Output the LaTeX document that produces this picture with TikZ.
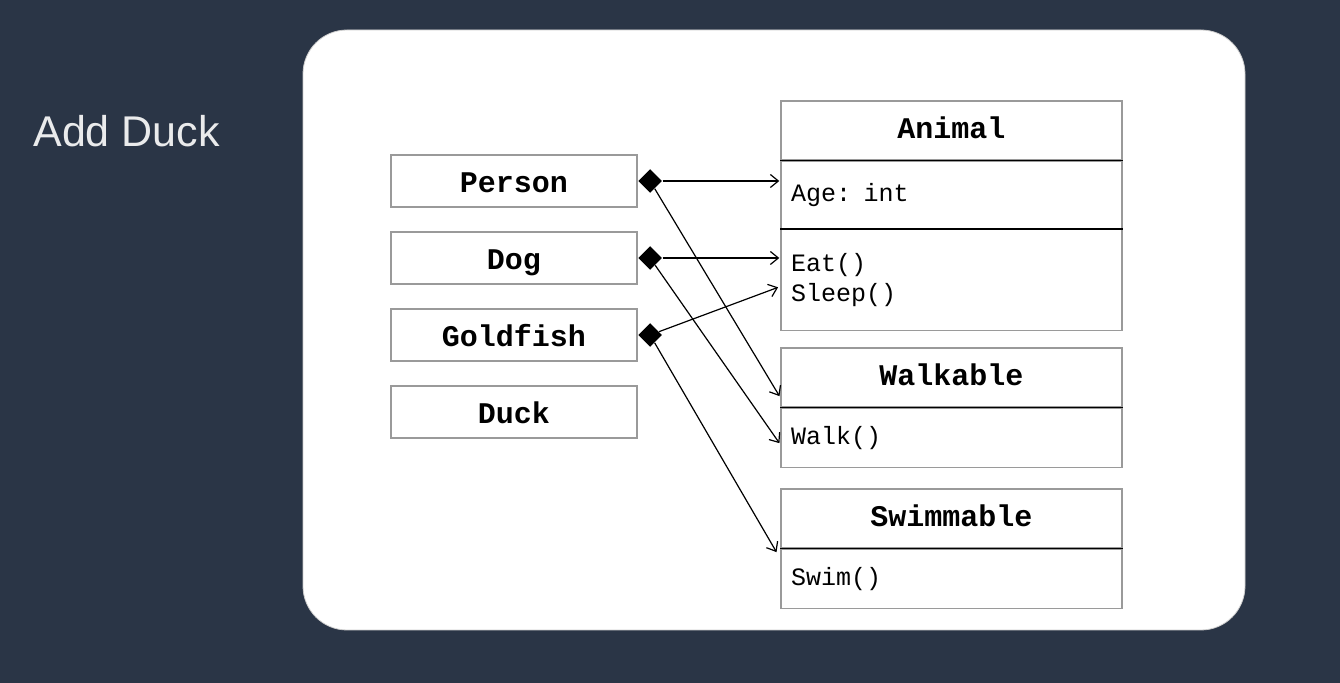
\documentclass[tikz,border=0pt]{standalone}
\usepackage{fontspec}
\setmainfont{Liberation Sans}
\setmonofont{Liberation Mono}
\usetikzlibrary{shapes.geometric,arrows.meta}
\definecolor{slide}{HTML}{2A3546}
\definecolor{boxgray}{HTML}{9A9A9A}
\tikzset{
  classbox/.style={draw=boxgray, line width=0.7pt, fill=white, minimum width=123pt, minimum height=26pt, inner sep=0pt, text height=14pt, text depth=2pt, font=\ttfamily\bfseries\fontsize{15}{18}\selectfont},
  head/.style={draw=boxgray, line width=0.7pt, minimum width=170.5pt, minimum height=29.5pt, inner sep=0pt, text height=11pt, text depth=3pt, font=\ttfamily\bfseries\fontsize{15}{18}\selectfont},
  members/.style={draw=boxgray, line width=0.7pt, text width=160.5pt, inner xsep=5pt, inner ysep=0pt, align=left, anchor=north, font=\ttfamily\fontsize{12.5}{15}\selectfont},
  owner/.style={diamond, fill=black, minimum size=12pt, inner sep=0pt, anchor=west},
  link/.style={-{Straight Barb[length=4pt,width=6.5pt]}, line width=0.6pt, shorten >=0.5pt},
  divider/.style={line width=0.7pt, black},
}

\begin{document}
\begin{tikzpicture}[x=0.5pt, y=-0.5pt]
  \fill[slide] (0,0) rectangle (1340,683);
  \useasboundingbox (0,0) rectangle (1340,683);
  \fill[white, draw=gray!40, rounded corners=22pt] (303,30) rectangle (1245,630);
  \node[anchor=west, inner sep=0pt, text=white!90!slide, font=\fontsize{21.5}{26}\selectfont] (title) at (33,131) {Add Duck};

  % classes on the left
  \node[classbox] (person) at (514,181) {Person};
  \node[classbox] (dog) at (514,258) {Dog};
  \node[classbox] (goldfish) at (514,335) {Goldfish};
  \node[classbox] (duck) at (514,412) {Duck};

  % Animal
  \node[head] (animal) at (951.5,130.5) {Animal};
  \node[members, minimum height=33.5pt] (animalattr) at (animal.south) {Age: int};
  \node[members, minimum height=50.5pt] (animalops) at (animalattr.south) {Eat()\\Sleep()};
  \draw[divider] (animal.south west) -- (animal.south east);
  \draw[divider] (animalattr.south west) -- (animalattr.south east);

  % Walkable
  \node[head] (walkable) at (951.5,377.5) {Walkable};
  \node[members, minimum height=29.5pt] (walkops) at (walkable.south) {Walk()};
  \draw[divider] (walkable.south west) -- (walkable.south east);

  % Swimmable
  \node[head] (swimmable) at (951.5,518.5) {Swimmable};
  \node[members, minimum height=29.5pt] (swimops) at (swimmable.south) {Swim()};
  \draw[divider] (swimmable.south west) -- (swimmable.south east);

  % arrow ends
  \coordinate (walkin) at (780,397);
  \coordinate (walkin2) at (780,444);
  \coordinate (sleepin) at (779,287);
  \coordinate (swimin) at (777,553);

  % composition diamonds
  \node[owner] (personown) at (person.east) {};
  \node[owner] (dogown) at (dog.east) {};
  \node[owner] (goldfishown) at (goldfish.east) {};

  \draw[link] (personown.east) -- (personown.east -| animalattr.west);
  \draw[link] (personown) -- (walkin);
  \draw[link] (dogown.east) -- (dogown.east -| animalops.west);
  \draw[link] (dogown) -- (walkin2);
  \draw[link] (goldfishown) -- (sleepin);
  \draw[link] (goldfishown) -- (swimin);
\end{tikzpicture}
\end{document}
